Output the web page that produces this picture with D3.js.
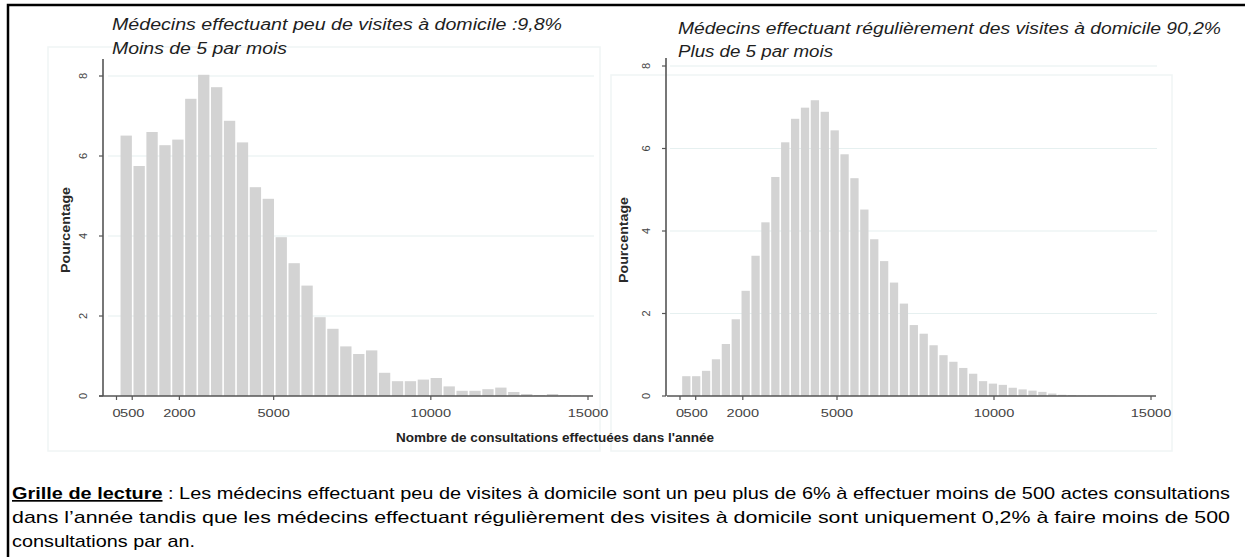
<!DOCTYPE html>
<html><head><meta charset="utf-8">
<script src="https://cdn.jsdelivr.net/npm/d3@7"></script>
<style>body{margin:0;background:#fff}svg{display:block}</style>
</head><body><svg id="c" width="1245" height="557"></svg>
<script>
// ---------- data ----------
const xTickValues = [0, 500, 2000, 5000, 10000, 15000];
const xTickLabels = ["0", "500", "2000", "5000", "10000", "15000"];
const yTickValues = [0, 2, 4, 6, 8];

const leftBinStart = 110, leftBinWidth = 411;
const leftValues = [6.51, 5.75, 6.60, 6.27, 6.41, 7.43, 8.03, 7.72, 6.88, 6.34, 5.22, 4.93, 3.97,
  3.32, 2.76, 1.97, 1.68, 1.24, 1.05, 1.14, 0.58, 0.37, 0.37, 0.41, 0.45, 0.24, 0.13, 0.13,
  0.17, 0.21, 0.10, 0.05, 0.02, 0.05, 0.02, 0.01];

const rightBinStart = 50, rightBinWidth = 315;
const rightValues = [0.48, 0.48, 0.61, 0.89, 1.26, 1.86, 2.55, 3.40, 4.21, 5.31, 6.15, 6.72, 6.99,
  7.17, 6.89, 6.44, 5.86, 5.28, 4.52, 3.80, 3.27, 2.75, 2.24, 1.72, 1.51, 1.23, 0.99, 0.83,
  0.68, 0.54, 0.36, 0.30, 0.27, 0.20, 0.16, 0.13, 0.10, 0.06, 0.03, 0.02, 0.01, 0.01, 0.01, 0.01];

const leftTitle = ["Médecins effectuant peu de visites à domicile :9,8%", "Moins de 5 par mois"];
const rightTitle = ["Médecins effectuant régulièrement des visites à domicile 90,2%", "Plus de 5 par mois"];
const yAxisTitle = "Pourcentage";
const xAxisTitle = "Nombre de consultations effectuées dans l'année";
const noteHead = "Grille de lecture";
const noteLines = [
  " : Les médecins effectuant peu de visites à domicile sont un peu plus de 6% à effectuer moins de 500 actes consultations",
  "dans l’année tandis que les médecins effectuant régulièrement des visites à domicile sont uniquement 0,2% à faire moins de 500",
  "consultations par an."
];

// ---------- drawing ----------
const svg = d3.select("#c");
const FONT = "'Liberation Sans', Arial, sans-serif";

// outer frame
svg.append("path").attr("d", "M8,557 L8,5 L1245,5").attr("fill", "none")
  .attr("stroke", "#000").attr("stroke-width", 2.5);

const panels = [
  { values: leftValues, start: leftBinStart, width: leftBinWidth, title: leftTitle,
    px0: 116.5, px1: 588, py0: 396, py8: 76, axisX: 103, axisTop: 59, axisL: 99, axisR: 593,
    gridL: 108, gridR: 594, box: [48, 47, 600, 451], tickLabX: 83, ytX: 66, ytY: 230,
    titleX: 112, titleW: [450, 175], titleY: [30, 54] },
  { values: rightValues, start: rightBinStart, width: rightBinWidth, title: rightTitle,
    px0: 680, px1: 1151, py0: 396, py8: 66, axisX: 666, axisTop: 58, axisL: 667, axisR: 1156,
    gridL: 670, gridR: 1157, box: [611, 75, 1172, 451], tickLabX: 646, ytX: 624, ytY: 240,
    titleX: 678, titleW: [543, 155], titleY: [34, 57] }
];

panels.forEach(p => {
  const g = svg.append("g");
  const x = d3.scaleLinear().domain([0, 15000]).range([p.px0, p.px1]);
  const y = d3.scaleLinear().domain([0, 8]).range([p.py0, p.py8]);

  // faint region box
  g.append("rect").attr("x", p.box[0]).attr("y", p.box[1])
    .attr("width", p.box[2] - p.box[0]).attr("height", p.box[3] - p.box[1])
    .attr("fill", "none").attr("stroke", "#f0f5f5").attr("stroke-width", 1.5);

  // grid
  g.selectAll(".grid").data(yTickValues.filter(v => v > 0)).enter().append("line")
    .attr("x1", p.gridL).attr("x2", p.gridR)
    .attr("y1", d => y(d)).attr("y2", d => y(d))
    .attr("stroke", "#e6f0f0").attr("stroke-width", 1.2);

  // bars
  const bins = p.values.map((v, i) => ({ x0: p.start + i * p.width, x1: p.start + (i + 1) * p.width, v }));
  g.selectAll(".bar").data(bins).enter().append("rect")
    .attr("x", d => x(d.x0) + 0.6)
    .attr("width", d => Math.max(0.5, x(d.x1) - x(d.x0) - 1.6))
    .attr("y", d => y(d.v))
    .attr("height", d => y(0) - y(d.v))
    .attr("fill", "#d3d3d3");

  // y axis
  g.append("line").attr("x1", p.axisX).attr("x2", p.axisX).attr("y1", p.axisTop).attr("y2", p.py0)
    .attr("stroke", "#555").attr("stroke-width", 1.6);
  g.selectAll(".yt").data(yTickValues).enter().append("line")
    .attr("x1", p.axisX - 4).attr("x2", p.axisX).attr("y1", d => y(d)).attr("y2", d => y(d))
    .attr("stroke", "#555").attr("stroke-width", 1.2);
  g.selectAll(".yl").data(yTickValues).enter().append("text")
    .attr("transform", d => `translate(${p.tickLabX},${y(d)}) rotate(-90)`)
    .attr("text-anchor", "middle").attr("dy", "0.35em")
    .attr("font-family", FONT).attr("font-size", 11).attr("fill", "#444")
    .text(d => d);

  // x axis
  g.append("line").attr("x1", p.axisL).attr("x2", p.axisR).attr("y1", p.py0).attr("y2", p.py0)
    .attr("stroke", "#555").attr("stroke-width", 1.6);
  g.selectAll(".xt").data(xTickValues).enter().append("line")
    .attr("x1", d => x(d)).attr("x2", d => x(d)).attr("y1", p.py0).attr("y2", p.py0 + 4)
    .attr("stroke", "#555").attr("stroke-width", 1.2);
  g.selectAll(".xl").data(xTickValues).enter().append("text")
    .attr("x", d => x(d)).attr("y", 417)
    .attr("text-anchor", "middle")
    .attr("font-family", FONT).attr("font-size", 11).attr("fill", "#444")
    .attr("textLength", (d, i) => xTickLabels[i].length * 8.1).attr("lengthAdjust", "spacingAndGlyphs")
    .text((d, i) => xTickLabels[i]);

  // y axis title
  g.append("text").attr("transform", `translate(${p.ytX},${p.ytY}) rotate(-90)`)
    .attr("text-anchor", "middle").attr("dy", "0.35em")
    .attr("font-family", FONT).attr("font-size", 12).attr("font-weight", "bold").attr("fill", "#2a2a2a")
    .attr("textLength", 86).attr("lengthAdjust", "spacingAndGlyphs")
    .text(yAxisTitle);

  // titles
  p.title.forEach((t, i) => {
    g.append("text").attr("x", p.titleX).attr("y", p.titleY[i])
      .attr("font-family", FONT).attr("font-size", 16).attr("font-style", "italic").attr("fill", "#1e1e1e")
      .attr("textLength", p.titleW[i]).attr("lengthAdjust", "spacingAndGlyphs")
      .text(t);
  });
});

// x axis title
svg.append("text").attr("x", 555).attr("y", 442).attr("text-anchor", "middle")
  .attr("font-family", FONT).attr("font-size", 13).attr("font-weight", "bold").attr("fill", "#222")
  .attr("textLength", 318).attr("lengthAdjust", "spacingAndGlyphs")
  .text(xAxisTitle);

// reading note
const noteY = [499, 523, 547];
const noteW = [1218, 1218, 183];
const t1 = svg.append("text").attr("x", 12).attr("y", noteY[0])
  .attr("font-family", FONT).attr("font-size", 17).attr("fill", "#000")
  .attr("textLength", noteW[0]).attr("lengthAdjust", "spacingAndGlyphs");
t1.append("tspan").attr("font-weight", "bold").attr("text-decoration", "underline").text(noteHead);
t1.append("tspan").text(noteLines[0]);
[1, 2].forEach(i => {
  svg.append("text").attr("x", 12).attr("y", noteY[i])
    .attr("font-family", FONT).attr("font-size", 17).attr("fill", "#000")
    .attr("textLength", noteW[i]).attr("lengthAdjust", "spacingAndGlyphs")
    .text(noteLines[i]);
});
</script>
</body></html>
